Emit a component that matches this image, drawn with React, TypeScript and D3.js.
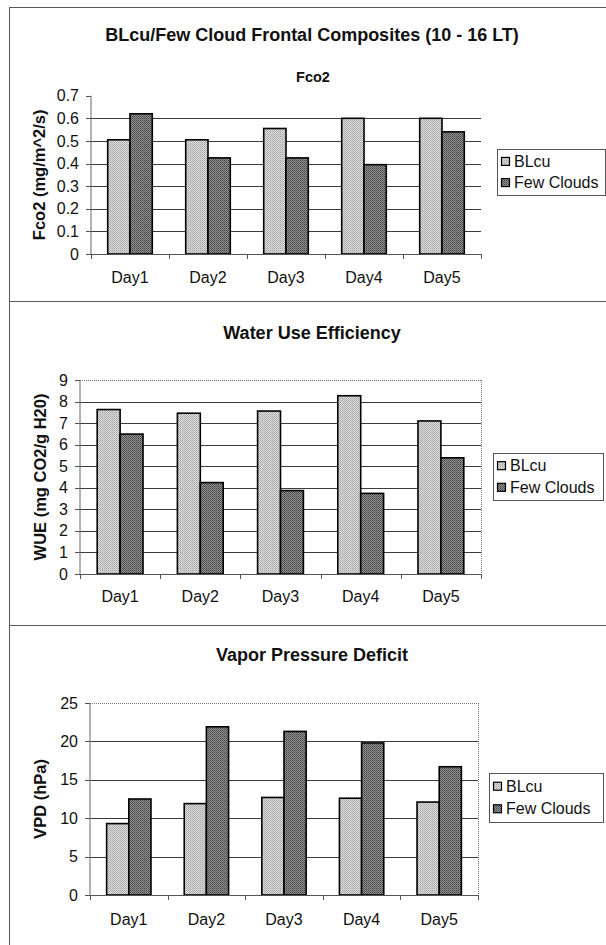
import React from "react";
import * as d3 from "d3";

// Categories and series
const DAYS = ["Day1", "Day2", "Day3", "Day4", "Day5"];
const SERIES = ["BLcu", "Few Clouds"];

// Fco2 (mg/m^2/s)
const FCO2_BLCU = [0.505, 0.505, 0.555, 0.6, 0.6];
const FCO2_FEW = [0.62, 0.425, 0.425, 0.395, 0.54];
const FCO2_TICKS = [0, 0.1, 0.2, 0.3, 0.4, 0.5, 0.6, 0.7];

// Water use efficiency (mg CO2/g H20)
const WUE_BLCU = [7.63, 7.46, 7.56, 8.27, 7.1];
const WUE_FEW = [6.49, 4.24, 3.87, 3.74, 5.39];
const WUE_TICKS = [0, 1, 2, 3, 4, 5, 6, 7, 8, 9];

// Vapor pressure deficit (hPa)
const VPD_BLCU = [9.3, 11.9, 12.7, 12.6, 12.1];
const VPD_FEW = [12.5, 21.9, 21.3, 19.8, 16.7];
const VPD_TICKS = [0, 5, 10, 15, 20, 25];

const FONT = "'Liberation Sans', Arial, Helvetica, sans-serif";
const FILLS = ["url(#fillLight)", "url(#fillDark)"];

type PanelSpec = {
  title: string;
  subtitle?: string;
  yLabel: string;
  values: number[][];
  ticks: number[];
  fmt: (v: number) => string;
  x0: number;
  x1: number;
  yTop: number;
  yBot: number;
  titleY: number;
  subtitleY?: number;
  yLabelX: number;
  xLabelY: number;
  tickRight: number;
  frame: boolean;
  legend: { x: number; y: number; w: number; h: number };
};

const fmt1 = (v: number) => (v === 0 ? "0" : d3.format(".1f")(v));
const fmt0 = (v: number) => d3.format("d")(v);

const PANELS: PanelSpec[] = [
  {
    title: "BLcu/Few Cloud Frontal Composites (10 - 16 LT)",
    subtitle: "Fco2",
    yLabel: "Fco2 (mg/m^2/s)",
    values: [FCO2_BLCU, FCO2_FEW],
    ticks: FCO2_TICKS,
    fmt: fmt1,
    x0: 91,
    x1: 481,
    yTop: 95.7,
    yBot: 254,
    titleY: 35,
    subtitleY: 77,
    yLabelX: 39,
    xLabelY: 277,
    tickRight: 79,
    frame: false,
    legend: { x: 497, y: 149, w: 108, h: 46 },
  },
  {
    title: "Water Use Efficiency",
    yLabel: "WUE (mg CO2/g H20)",
    values: [WUE_BLCU, WUE_FEW],
    ticks: WUE_TICKS,
    fmt: fmt0,
    x0: 80,
    x1: 481,
    yTop: 380,
    yBot: 574,
    titleY: 333,
    yLabelX: 40,
    xLabelY: 596,
    tickRight: 68,
    frame: true,
    legend: { x: 493, y: 453, w: 110, h: 47 },
  },
  {
    title: "Vapor Pressure Deficit",
    yLabel: "VPD (hPa)",
    values: [VPD_BLCU, VPD_FEW],
    ticks: VPD_TICKS,
    fmt: fmt0,
    x0: 90,
    x1: 478,
    yTop: 703,
    yBot: 895,
    titleY: 655,
    yLabelX: 40,
    xLabelY: 919,
    tickRight: 78,
    frame: true,
    legend: { x: 489, y: 773, w: 114, h: 49 },
  },
];

function BarPanel({ p }: { p: PanelSpec }) {
  const x = d3.scaleBand<string>().domain(DAYS).range([p.x0, p.x1]);
  // 150% gap between clusters: two bars + 1.5 bar widths of gap per category
  const inner = d3
    .scaleBand<string>()
    .domain(SERIES)
    .range([0, x.bandwidth()])
    .paddingInner(0)
    .paddingOuter(0.75);
  const y = d3
    .scaleLinear()
    .domain([0, p.ticks[p.ticks.length - 1]])
    .range([p.yBot, p.yTop]);
  const top = p.ticks[p.ticks.length - 1];
  const midY = (p.yTop + p.yBot) / 2;
  const bounds = [...DAYS.map((d) => x(d) as number), p.x1];

  return (
    <g fontFamily={FONT} fill="#111">
      <text
        x={312}
        y={p.titleY}
        dy="0.35em"
        textAnchor="middle"
        fontSize={18}
        fontWeight="bold"
      >
        {p.title}
      </text>
      {p.subtitle && (
        <text
          x={313}
          y={p.subtitleY}
          dy="0.35em"
          textAnchor="middle"
          fontSize={14.5}
          fontWeight="bold"
        >
          {p.subtitle}
        </text>
      )}

      {/* gridlines */}
      {p.ticks
        .filter((t) => t !== 0 && t !== top)
        .map((t) => (
          <line
            key={"g" + t}
            x1={p.x0}
            x2={p.x1}
            y1={Math.round(y(t)) + 0.5}
            y2={Math.round(y(t)) + 0.5}
            stroke="#3c3c3c"
            strokeWidth={1}
          />
        ))}

      {/* dotted plot-area outline */}
      {p.frame && (
        <g stroke="#777" strokeWidth={1} strokeDasharray="1 1" fill="none">
          <line x1={p.x0} x2={p.x1} y1={Math.round(p.yTop) + 0.5} y2={Math.round(p.yTop) + 0.5} />
          <line x1={Math.round(p.x1) + 0.5} x2={Math.round(p.x1) + 0.5} y1={p.yTop} y2={p.yBot} />
        </g>
      )}

      {/* bars */}
      {SERIES.map((s, si) =>
        DAYS.map((d, di) => {
          const v = p.values[si][di];
          const bx = (x(d) as number) + (inner(s) as number);
          return (
            <rect
              key={s + d}
              x={bx}
              y={y(v)}
              width={inner.bandwidth()}
              height={p.yBot - y(v)}
              fill={FILLS[si]}
              stroke="#000"
              strokeWidth={1.6}
            />
          );
        })
      )}

      {/* axes */}
      <line x1={p.x0} x2={p.x0} y1={p.yTop} y2={p.yBot} stroke="#666" strokeWidth={1} />
      <line x1={p.x0 - 5} x2={p.x1} y1={p.yBot + 0.5} y2={p.yBot + 0.5} stroke="#555" strokeWidth={1} />
      {p.ticks.map((t) => (
        <g key={"t" + t}>
          <line
            x1={p.x0 - 5}
            x2={p.x0}
            y1={Math.round(y(t)) + 0.5}
            y2={Math.round(y(t)) + 0.5}
            stroke="#555"
          />
          <text
            x={p.tickRight}
            y={y(t)}
            dy="0.35em"
            textAnchor="end"
            fontSize={16}
          >
            {p.fmt(t)}
          </text>
        </g>
      ))}
      {bounds.map((bx, i) => (
        <line
          key={"xt" + i}
          x1={Math.round(bx) + 0.5}
          x2={Math.round(bx) + 0.5}
          y1={p.yBot}
          y2={p.yBot + 5}
          stroke="#555"
        />
      ))}
      {DAYS.map((d) => (
        <text
          key={"xl" + d}
          x={(x(d) as number) + x.bandwidth() / 2}
          y={p.xLabelY}
          dy="0.35em"
          textAnchor="middle"
          fontSize={16}
        >
          {d}
        </text>
      ))}
      <text
        transform={`translate(${p.yLabelX},${midY}) rotate(-90)`}
        dy="0.35em"
        textAnchor="middle"
        fontSize={16.5}
        fontWeight="bold"
      >
        {p.yLabel}
      </text>

      {/* legend */}
      <rect
        x={p.legend.x + 0.5}
        y={p.legend.y + 0.5}
        width={p.legend.w}
        height={p.legend.h}
        fill="#fff"
        stroke="#555"
        strokeWidth={1}
      />
      {SERIES.map((s, si) => {
        const cy = p.legend.y + p.legend.h * (si === 0 ? 0.27 : 0.73);
        return (
          <g key={"lg" + s}>
            <rect
              x={p.legend.x + 4.5}
              y={cy - 4}
              width={8}
              height={8}
              fill={FILLS[si]}
              stroke="#000"
              strokeWidth={1.2}
            />
            <text x={p.legend.x + 17} y={cy} dy="0.35em" fontSize={16}>
              {s}
            </text>
          </g>
        );
      })}
    </g>
  );
}

export default function App() {
  return (
    <svg
      width={606}
      height={945}
      viewBox="0 0 606 945"
      style={{ position: "absolute", left: 0, top: 0, background: "#fff" }}
    >
      <defs>
        <pattern id="fillLight" width={2} height={2} patternUnits="userSpaceOnUse">
          <rect width={2} height={2} fill="#dedede" />
          <rect width={1} height={1} fill="#a2a2a2" />
          <rect x={1} y={1} width={1} height={1} fill="#b4b4b4" />
        </pattern>
        <pattern id="fillDark" width={2} height={2} patternUnits="userSpaceOnUse">
          <rect width={2} height={2} fill="#949494" />
          <rect width={1} height={1} fill="#3e3e3e" />
          <rect x={1} y={1} width={1} height={1} fill="#5a5a5a" />
        </pattern>
      </defs>
      <rect width={606} height={945} fill="#fff" />

      {/* panel frame lines */}
      <g stroke="#5a5a5a" strokeWidth={1}>
        <line x1={9.5} x2={9.5} y1={7} y2={945} />
        <line x1={9} x2={606} y1={7.5} y2={7.5} />
        <line x1={9} x2={606} y1={301.5} y2={301.5} />
        <line x1={9} x2={606} y1={625.5} y2={625.5} />
      </g>

      {PANELS.map((p, i) => (
        <BarPanel key={i} p={p} />
      ))}
    </svg>
  );
}
